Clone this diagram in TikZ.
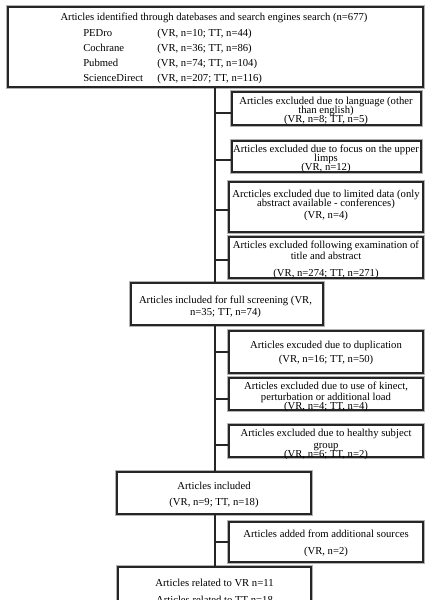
\documentclass[tikz,border=0pt]{standalone}
\usepackage{fontspec}
\setmainfont{Liberation Serif}
\usetikzlibrary{calc,fit}
\newcommand\myboxfont{\fontsize{8}{6.75}\selectfont\lineskiplimit=-20pt\relax\lineskip=0pt\relax}
\begin{document}
\begin{tikzpicture}[x=0.75pt,y=-0.75pt,
  box/.style={draw=black!85, line width=0.9pt, fill=white, preaction={draw=black!30, line width=2.6pt}, inner sep=0pt},
  txt/.style={font=\myboxfont, align=center, inner sep=0pt, text=black, yshift=-1.5pt},
  link/.style={draw=black!85, line width=0.8pt}]
\clip (0,0) rectangle (431,600);
\fill[white] (0,0) rectangle (431,600);
% boxes
\node[box, fit={(8,7) (423,87)}] (b1) {};
\node[box, fit={(232,92) (421,125)}] (e1) {};
\node[box, fit={(232,141) (421,172)}] (e2) {};
\node[box, fit={(229,182) (423,232)}] (e3) {};
\node[box, fit={(229,237) (423,278)}] (e4) {};
\node[box, fit={(131,283) (323,325)}] (s) {};
\node[box, fit={(229,331) (423,373)}] (e5) {};
\node[box, fit={(229,378) (423,410)}] (e6) {};
\node[box, fit={(229,425) (423,457)}] (e7) {};
\node[box, fit={(117,472) (311,514)}] (inc) {};
\node[box, fit={(229,522) (423,562)}] (add) {};
\node[box, fit={(118,567) (311,620)}] (fin) {};
% texts
\node[txt] (t1) at (214,16) {Articles identified through datebases and search engines search (n=677)};
\node[txt, anchor=base west] (d1) at (83,34) {PEDro};
\node[txt, anchor=base west] (d2) at (83,49) {Cochrane};
\node[txt, anchor=base west] (d3) at (83,64) {Pubmed};
\node[txt, anchor=base west] (d4) at (83,79) {ScienceDirect};
\node[txt, anchor=base west] (c1) at (157,34) {(VR, n=10; TT, n=44)};
\node[txt, anchor=base west] (c2) at (157,49) {(VR, n=36; TT, n=86)};
\node[txt, anchor=base west] (c3) at (157,64) {(VR, n=74; TT, n=104)};
\node[txt, anchor=base west] (c4) at (157,79) {(VR, n=207; TT, n=116)};
\node[txt] (e1t) at (326,109) {Articles excluded due to language (other\\than english)\\(VR, n=8; TT, n=5)};
\node[txt] (e2t) at (326,156.5) {Articles excluded due to focus on the upper\\limps\\(VR, n=12)};
\node[txt] (e3t) at (326,203.5) {Arcticles excluded due to limited data (only\\abstract available - conferences)\\[2.25pt](VR, n=4)};
\node[txt] (e4t) at (326,258) {Articles excluded following examination of\\[1.5pt]title and abstract\\[6pt](VR, n=274; TT, n=271)};
\node[txt] (st) at (225.5,305) {Articles included for full screening (VR,\\[2.25pt]n=35; TT, n=74)};
\node[txt] (e5t) at (326,351) {Articles excuded due to duplication\\[3.75pt](VR, n=16; TT, n=50)};
\node[txt] (e6t) at (326,395) {Articles excluded due to use of kinect,\\[1.5pt]perturbation or additional load\\(VR, n=4; TT, n=4)};
\node[txt] (e7t) at (326,442.5) {Articles excluded due to healthy subject\\[2.25pt]group\\(VR, n=6; TT, n=2)};
\node[txt] (inct) at (214,493) {Articles included\\[5.25pt](VR, n=9; TT, n=18)};
\node[txt] (addt) at (326,541.5) {Articles added from additional sources\\[6pt](VR, n=2)};
\node[txt] (fint) at (214.5,589) {Articles related to VR n=11\\[6pt]Articles related to TT n=18};
% spine
\coordinate (sp) at (215,0);
\draw[link] (b1.south -| sp) -- (s.north -| sp);
\draw[link] (s.south -| sp) -- (inc.north -| sp);
\draw[link] (inc.south -| sp) -- (fin.north -| sp);
% branches
\coordinate (e1b) at ($(e1.west)+(0,4.5)$);
\coordinate (e2b) at ($(e2.west)+(0,3.5)$);
\coordinate (e3b) at ($(e3.west)+(0,3)$);
\coordinate (e4b) at ($(e4.west)+(0,2.5)$);
\coordinate (e5b) at ($(e5.west)+(0,0)$);
\coordinate (e6b) at ($(e6.west)+(0,5)$);
\coordinate (e7b) at ($(e7.west)+(0,4)$);
\coordinate (addb) at ($(add.west)+(0,0)$);
\foreach \b in {e1b,e2b,e3b,e4b,e5b,e6b,e7b,addb}
  \draw[link] (\b) -- (\b -| sp);
\end{tikzpicture}
\end{document}
